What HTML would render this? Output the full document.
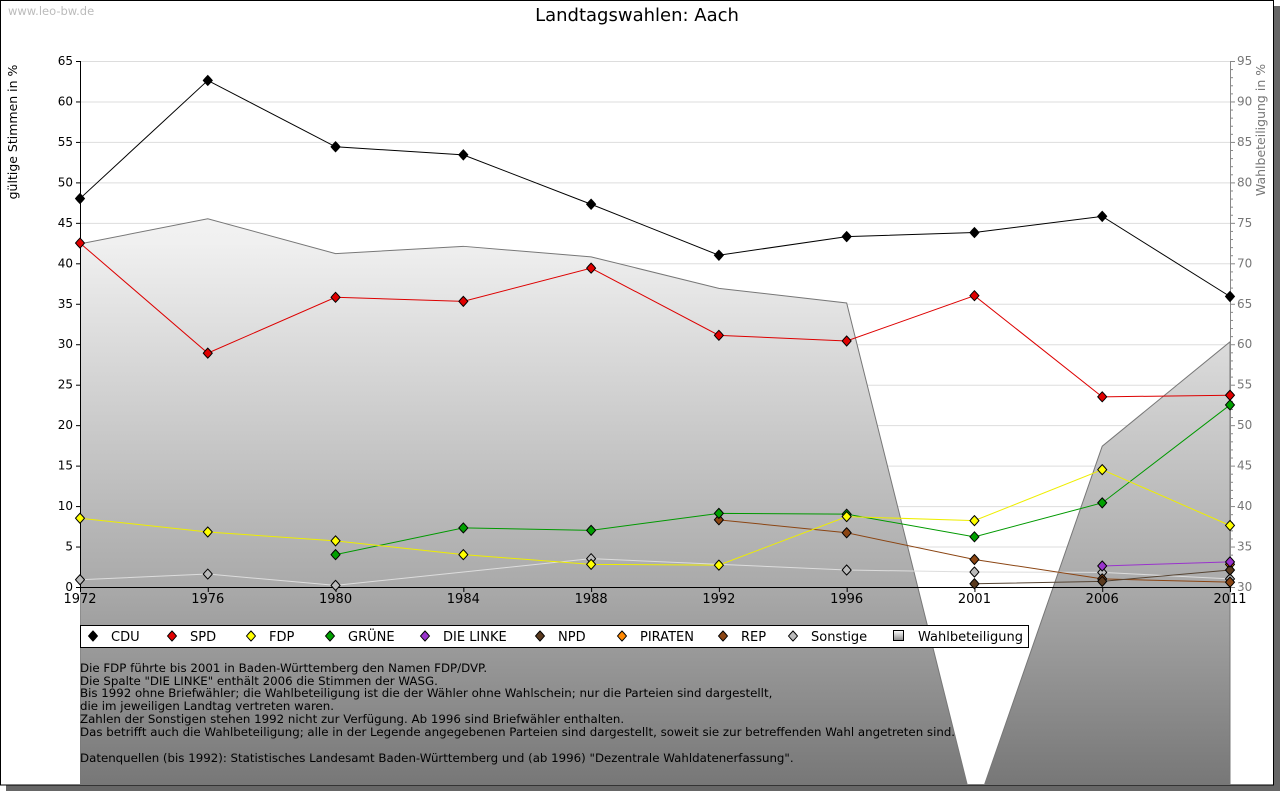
<!DOCTYPE html>
<html><head><meta charset="utf-8"><style>
body{margin:0;background:#fff;}
svg{display:block;font-family:"DejaVu Sans","Liberation Sans",sans-serif;}
</style></head><body>
<svg id="c" width="1280" height="791" viewBox="0 0 1280 791">
<defs>
<linearGradient id="g" gradientUnits="userSpaceOnUse" x1="0" y1="61" x2="0" y2="785">
<stop offset="0" stop-color="#ffffff"/><stop offset="0.25" stop-color="#f0f0f0"/><stop offset="0.73" stop-color="#a9a9a9"/><stop offset="1" stop-color="#777777"/></linearGradient>
<linearGradient id="lg" x1="0" y1="0" x2="0" y2="1"><stop offset="0" stop-color="#fff"/><stop offset="1" stop-color="#888"/></linearGradient>
<clipPath id="cp"><rect x="80" y="0" width="1150.5" height="785"/></clipPath>
</defs>
<rect x="6" y="6" width="1274" height="785" fill="#666"/>
<rect x="0.5" y="0.5" width="1273" height="784.5" fill="#fff" stroke="#000"/>
<text x="8" y="15" font-size="11.5" fill="#bbb">www.leo-bw.de</text>
<text x="637" y="21" font-size="18" text-anchor="middle" fill="#000">Landtagswahlen: Aach</text>
<text transform="translate(17,132) rotate(-90)" font-size="12.5" text-anchor="middle">gültige Stimmen in %</text>
<text transform="translate(1265,130) rotate(-90)" font-size="12.5" text-anchor="middle" fill="#777">Wahlbeteiligung in %</text>
<g id="grid"></g>
<g id="area" clip-path="url(#cp)"></g>
<g id="axes"></g>
<g id="series"></g>
<g>
<rect x="80.5" y="625.5" width="948" height="22" fill="#fff" stroke="#000"/>
<g id="legend"></g>
</g>
<g font-size="11.8" fill="#000">
<text x="80" y="672">Die FDP führte bis 2001 in Baden-Württemberg den Namen FDP/DVP.</text>
<text x="80" y="685">Die Spalte "DIE LINKE" enthält 2006 die Stimmen der WASG.</text>
<text x="80" y="697">Bis 1992 ohne Briefwähler; die Wahlbeteiligung ist die der Wähler ohne Wahlschein; nur die Parteien sind dargestellt,</text>
<text x="80" y="710">die im jeweiligen Landtag vertreten waren.</text>
<text x="80" y="723">Zahlen der Sonstigen stehen 1992 nicht zur Verfügung. Ab 1996 sind Briefwähler enthalten.</text>
<text x="80" y="736">Das betrifft auch die Wahlbeteiligung; alle in der Legende angegebenen Parteien sind dargestellt, soweit sie zur betreffenden Wahl angetreten sind.</text>
<text x="80" y="762">Datenquellen (bis 1992): Statistisches Landesamt Baden-Württemberg und (ab 1996) "Dezentrale Wahldatenerfassung".</text>
</g>
</svg>
<script>
const years=["1972","1976","1980","1984","1988","1992","1996","2001","2006","2011"];
const leftTicks=[0,5,10,15,20,25,30,35,40,45,50,55,60,65];
const rightTicks=[30,35,40,45,50,55,60,65,70,75,80,85,90,95];
const cdu=[48.0,62.6,54.4,53.4,47.3,41.0,43.3,43.8,45.8,35.9];
const spd=[42.5,28.9,35.8,35.3,39.4,31.1,30.4,36.0,23.5,23.7];
const fdp=[8.5,6.8,5.7,4.0,2.8,2.7,8.7,8.2,14.5,7.6];
const gruene=[null,null,4.0,7.3,7.0,9.1,9.0,6.2,10.4,22.5];
const linke=[null,null,null,null,null,null,null,null,2.6,3.1];
const npd=[null,null,null,null,null,null,null,0.4,0.7,2.1];
const piraten=[null,null,null,null,null,null,null,null,null,2.8];
const rep=[null,null,null,null,null,8.3,6.7,3.4,1.0,0.6];
const sonstige=[0.9,1.6,0.2,null,3.5,null,2.1,1.85,1.8,1.0];
const turnout=[72.4,75.5,71.2,72.1,70.8,66.9,65.1,2.0,47.4,60.3];
const NS='http://www.w3.org/2000/svg';
const X0=80,X1=1230,Y0=587,YT=61;
const x=i=>X0+i*(X1-X0)/(years.length-1);
const y=v=>Y0-(v/65)*(Y0-YT);
const yr=v=>Y0-((v-30)/65)*(Y0-YT);
function mk(t,a,p){const e=document.createElementNS(NS,t);for(const k in a)e.setAttribute(k,a[k]);p.appendChild(e);return e;}
const grid=document.getElementById('grid'),axes=document.getElementById('axes'),area=document.getElementById('area'),ser=document.getElementById('series'),leg=document.getElementById('legend');
leftTicks.forEach(v=>{if(v>0){const l=mk('line',{x1:X0,x2:X1,y1:y(v)+.5,y2:y(v)+.5,stroke:'#ddd'},grid);}});
let d='M'+x(0)+','+800;turnout.forEach((v,i)=>d+=' L'+x(i)+','+yr(v));d+=' L'+x(turnout.length-1)+',800 Z';
const ar=mk('path',{d:d,fill:'url(#g)',stroke:'#777','stroke-width':1},area);


mk('line',{x1:X0+.5,x2:X0+.5,y1:YT,y2:Y0,stroke:'#000'},axes);
mk('line',{x1:X1+.5,x2:X1+.5,y1:YT,y2:Y0,stroke:'#888'},axes);
mk('line',{x1:X0,x2:X1+1,y1:Y0+.5,y2:Y0+.5,stroke:'#000'},axes);
leftTicks.forEach(v=>{mk('line',{x1:X0-4,x2:X0,y1:y(v)+.5,y2:y(v)+.5,stroke:'#000'},axes);
const t=mk('text',{x:X0-7,y:y(v)+4,'font-size':12,'text-anchor':'end'},axes);t.textContent=v;
});
for(let v=30;v<=95;v++){mk('line',{x1:X1,x2:X1+(v%5?3:5),y1:yr(v)+.5,y2:yr(v)+.5,stroke:'#888'},axes);}
rightTicks.forEach(v=>{const t=mk('text',{x:X1+7,y:yr(v)+4,'font-size':12,fill:'#777'},axes);t.textContent=v;
});
years.forEach((s,i)=>{mk('line',{x1:x(i)+.5,x2:x(i)+.5,y1:Y0,y2:Y0+5,stroke:'#000'},axes);
const t=mk('text',{x:x(i),y:Y0+16,'font-size':13,'text-anchor':'middle'},axes);t.textContent=s;
});
const S=[["CDU",cdu,"#000","#000"],["SPD",spd,"#e00000","#d00"],["FDP",fdp,"#ffff00","#ee0"],["GRÜNE",gruene,"#00a000","#090"],["DIE LINKE",linke,"#9933cc","#93c"],["NPD",npd,"#5a3a1e","#543"],["PIRATEN",piraten,"#ff8800","#f80"],["REP",rep,"#8b4513","#8b4513"],["Sonstige",sonstige,"#bbbbbb","#ddd"]];
function dia(cx,cy,f,p){return mk('path',{d:`M${cx},${cy-5} Q${cx+2.5},${cy-2.5} ${cx+4.5},${cy} Q${cx+2.5},${cy+2.5} ${cx},${cy+5} Q${cx-2.5},${cy+2.5} ${cx-4.5},${cy} Q${cx-2.5},${cy-2.5} ${cx},${cy-5} Z`,fill:f,stroke:'#000','stroke-width':1},p);}
[...S].reverse().forEach(([n,arr,f,lc])=>{const g=mk('g',{},ser);

const pts=[];arr.forEach((v,i)=>{if(v!==null)pts.push([x(i),y(v)]);});
if(pts.length>1)mk('polyline',{points:pts.map(p=>p.join(',')).join(' '),fill:'none',stroke:lc,'stroke-width':1},g);
pts.forEach(p=>{const m=dia(p[0],p[1],f,g);});});
const lx=[93,172,251,330,425,540,622,723,793];
S.forEach(([n,arr,f],i)=>{const g=mk('g',{},leg);
dia(lx[i],636,f,g);const t=mk('text',{x:lx[i]+18,y:641,'font-size':13},g);t.textContent=n;});
const g=mk('g',{},leg);
mk('rect',{x:893.5,y:630.5,width:10,height:10,fill:'url(#lg)',stroke:'#000'},g);
const t=mk('text',{x:918,y:641,'font-size':13},g);t.textContent='Wahlbeteiligung';
</script>
</body></html>
